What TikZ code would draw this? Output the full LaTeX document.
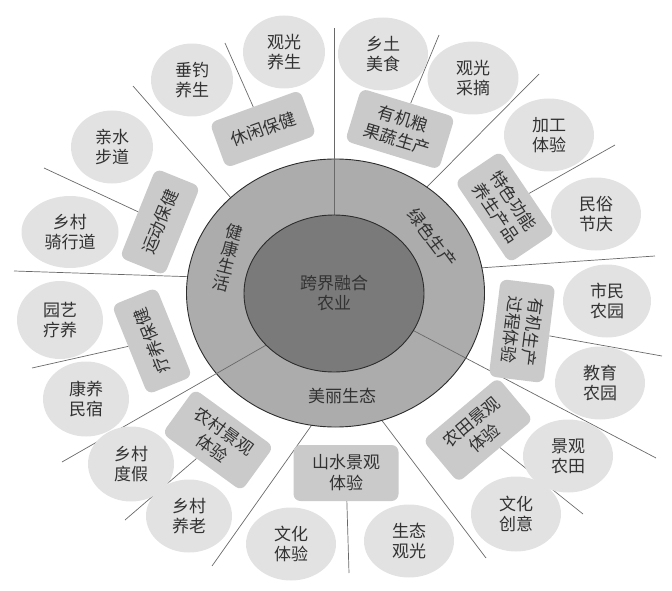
\documentclass[tikz,border=0pt]{standalone}
\usepackage{fontspec}
\setmainfont{Noto Sans CJK SC}
\usetikzlibrary{shapes.geometric}
\definecolor{hubgray}{RGB}{122,122,122}
\definecolor{ringgray}{RGB}{172,172,172}
\definecolor{boxgray}{RGB}{202,202,202}
\definecolor{leafgray}{RGB}{226,226,226}
\definecolor{inkgray}{RGB}{50,50,50}
\definecolor{linegray}{RGB}{105,105,105}
\definecolor{rimgray}{RGB}{45,45,45}

\begin{document}
\begin{tikzpicture}[x=1pt,y=-1pt,
  every node/.style={text=inkgray,font=\fontsize{17}{20}\selectfont,align=center},
  leaf/.style={ellipse,fill=leafgray,minimum width=90pt,minimum height=73pt,inner sep=0pt},
  theme/.style={rectangle,rounded corners=7pt,fill=boxgray,minimum width=96pt,minimum height=48pt,inner sep=3pt,font=\fontsize{17}{21}\selectfont},
  theme2/.style={theme,minimum width=98pt,minimum height=55pt},
  spoke/.style={draw=linegray,line width=0.7pt}]
  \useasboundingbox (0,0) rectangle (672,591);

  \coordinate (r1) at (238,206); \coordinate (s1) at (133,86);
  \coordinate (r2) at (198,277); \coordinate (s2) at (14,271);
  \coordinate (r3) at (422,192); \coordinate (s3) at (539,74);
  \coordinate (r4) at (479,268); \coordinate (s4) at (655,256);
  \coordinate (r5) at (377,414); \coordinate (s5) at (486,558);
  \coordinate (r6) at (316,419); \coordinate (s6) at (212,566);
  \foreach \i in {1,...,6}
    \draw[spoke] (r\i) -- (s\i);

  \filldraw[fill=ringgray,draw=rimgray,line width=0.9pt] (335.5,293) ellipse [x radius=149, y radius=134];

  \coordinate (d1) at (334,28);  \coordinate (c1) at (334,250);
  \coordinate (d2) at (656,458); \coordinate (c2) at (399,323);
  \coordinate (d3) at (62,462);  \coordinate (c3) at (282,336);
  \foreach \i in {1,2,3}
    \draw[spoke] (d\i) -- (c\i);

  \filldraw[fill=hubgray,draw=rimgray,line width=0.9pt] (334,293.5) ellipse [x radius=90, y radius=78.5];

  \node (hub) at (334,293) {跨界融合\\农业};
  \node[rotate=-14,font=\fontsize{17}{17.5}\selectfont] (health) at (228,258) {健\\康\\生\\活};
  \node[rotate=-53] (green) at (432,238) {绿色生产};
  \node (eco) at (342,396) {美丽生态};

  \node[theme,rotate=20] (b1) at (263,129) {休闲保健};
  \node[theme,rotate=68] (b2) at (160,222) {运动保健};
  \node[theme,rotate=112] (b3) at (152,341) {疗养保健};
  \node[theme2,rotate=-36] (b4) at (218,440) {农村景观\\体验};
  \node[theme2,minimum width=105pt,minimum height=56pt] (b5) at (346,473) {山水景观\\体验};
  \node[theme2,rotate=40] (b6) at (478,430) {农田景观\\体验};
  \node[theme2,rotate=-97] (b7) at (522,331) {有机生产\\过程体验};
  \node[theme2,rotate=-56] (b8) at (505,207) {特色功能\\养生产品};
  \node[theme2,rotate=-17] (b9) at (400,129) {有机粮\\果蔬生产};

  \coordinate (t1) at (225,43);
  \coordinate (t2) at (44,168);
  \coordinate (t3) at (32,368);
  \coordinate (t4) at (125,520);
  \coordinate (t5) at (349,573);
  \coordinate (t6) at (583,514);
  \coordinate (t7) at (662,356);
  \coordinate (t8) at (615,145);
  \coordinate (t9) at (439,35);
  \foreach \i in {1,...,9}
    \draw[spoke] (b\i) -- (t\i);

  \node[leaf,minimum width=82pt] (e1) at (284,52) {观光\\养生};
  \node[leaf,minimum width=82pt] (e2) at (192,80) {垂钓\\养生};
  \node[leaf,minimum width=82pt] (e3) at (112,147) {亲水\\步道};
  \node[leaf,minimum width=97pt,minimum height=72pt] (e4) at (70,232) {乡村\\骑行道};
  \node[leaf,minimum width=86pt,minimum height=78pt] (e5) at (60,320) {园艺\\疗养};
  \node[leaf,minimum width=86pt,minimum height=75pt] (e6) at (86,399) {康养\\民宿};
  \node[leaf,minimum width=86pt,minimum height=75pt] (e7) at (131,464) {乡村\\度假};
  \node[leaf,minimum width=86pt] (e8) at (189,516) {乡村\\养老};
  \node[leaf] (e9) at (291,544) {文化\\体验};
  \node[leaf] (e10) at (409,541) {生态\\观光};
  \node[leaf,minimum height=75pt] (e11) at (516,514) {文化\\创意};
  \node[leaf] (e12) at (568,456) {景观\\农田};
  \node[leaf] (e13) at (600,383) {教育\\农园};
  \node[leaf,minimum width=88pt] (e14) at (607,301) {市民\\农园};
  \node[leaf] (e15) at (596,214) {民俗\\节庆};
  \node[leaf] (e16) at (549,135) {加工\\体验};
  \node[leaf,minimum width=91pt] (e17) at (473,78) {观光\\采摘};
  \node[leaf] (e18) at (383,54) {乡土\\美食};
\end{tikzpicture}
\end{document}
